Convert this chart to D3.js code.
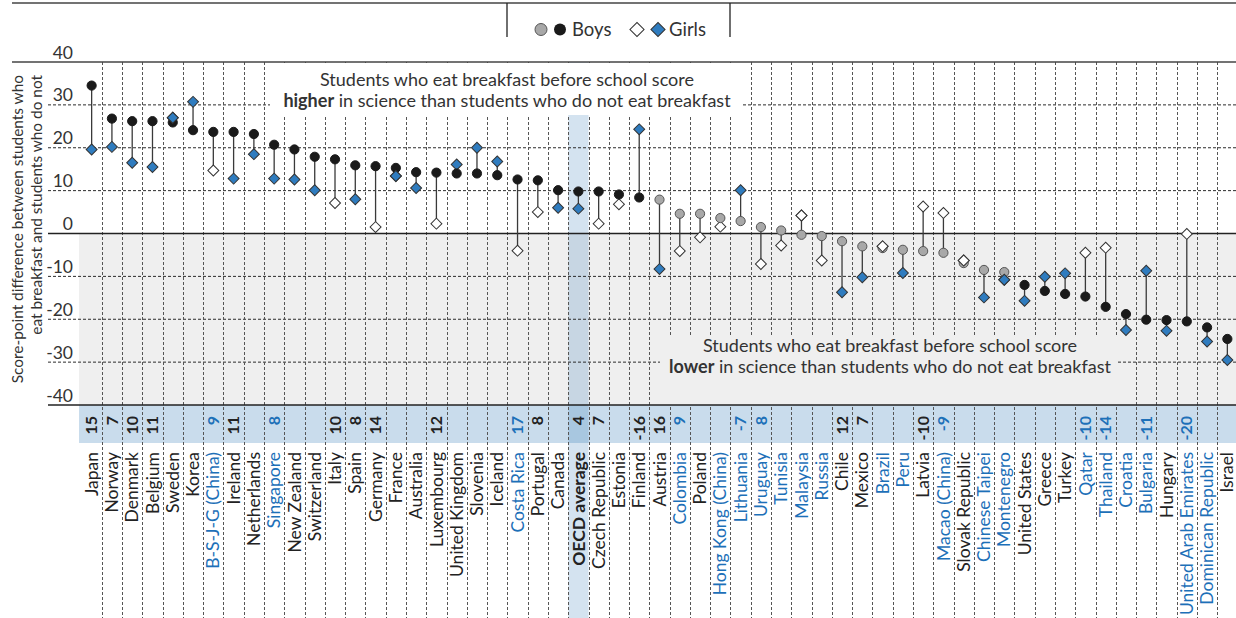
<!DOCTYPE html>
<html>
<head>
<meta charset="utf-8">
<script src="https://cdn.jsdelivr.net/npm/d3@7/dist/d3.min.js"></script>
<style>
  body { margin: 0; background: #fff; }
  svg { display: block; font-family: Lato, 'Open Sans', sans-serif; }
</style>
</head>
<body>
<svg width="1236" height="618"></svg>
<script>
// countries in chart order, left to right
let countries = ['Japan', 'Norway', 'Denmark', 'Belgium', 'Sweden', 'Korea', 'B-S-J-G (China)', 'Ireland',
  'Netherlands', 'Singapore', 'New Zealand', 'Switzerland', 'Italy', 'Spain', 'Germany', 'France', 'Australia',
  'Luxembourg', 'United Kingdom', 'Slovenia', 'Iceland', 'Costa Rica', 'Portugal', 'Canada', 'OECD average',
  'Czech Republic', 'Estonia', 'Finland', 'Austria', 'Colombia', 'Poland', 'Hong Kong (China)', 'Lithuania',
  'Uruguay', 'Tunisia', 'Malaysia', 'Russia', 'Chile', 'Mexico', 'Brazil', 'Peru', 'Latvia', 'Macao (China)',
  'Slovak Republic', 'Chinese Taipei', 'Montenegro', 'United States', 'Greece', 'Turkey', 'Qatar', 'Thailand',
  'Croatia', 'Bulgaria', 'Hungary', 'United Arab Emirates', 'Dominican Republic', 'Israel']

// partner economies get blue labels
let partners = ['B-S-J-G (China)', 'Singapore', 'Costa Rica', 'Colombia', 'Hong Kong (China)', 'Lithuania',
  'Uruguay', 'Tunisia', 'Malaysia', 'Russia', 'Brazil', 'Peru', 'Macao (China)', 'Chinese Taipei', 'Montenegro',
  'Qatar', 'Thailand', 'Croatia', 'Bulgaria', 'United Arab Emirates', 'Dominican Republic']

let boys = [34.5, 26.8, 26.2, 26.2, 25.9, 24.1, 23.7, 23.7, 23.2, 20.7, 19.6, 17.9, 17.3, 15.9, 15.7, 15.3, 14.3,
  14.2, 14.0, 14.0, 13.6, 12.6, 12.4, 10.1, 9.8, 9.8, 9.1, 8.4, 7.9, 4.6, 4.6, 3.6, 2.9, 1.5, 0.7, -0.3, -0.6,
  -1.8, -3.0, -3.4, -3.8, -4.1, -4.5, -6.9, -8.5, -9.0, -12.0, -13.4, -14.1, -14.7, -17.1, -18.8, -20.1, -20.2,
  -20.5, -21.9, -24.6]

let girls = [19.6, 20.2, 16.5, 15.5, 27.0, 30.7, 14.7, 12.8, 18.5, 12.8, 12.6, 10.1, 7.1, 8.0, 1.5, 13.4, 10.6,
  2.3, 16.1, 20.0, 16.8, -4.0, 5.0, 6.0, 5.8, 2.3, 6.8, 24.3, -8.3, -4.1, -0.9, 1.6, 10.1, -7.1, -2.8, 4.2, -6.3,
  -13.7, -10.2, -3.0, -9.2, 6.3, 4.8, -6.3, -14.9, -10.8, -15.7, -10.1, -9.3, -4.5, -3.3, -22.5, -8.7, -22.7,
  -0.1, -25.2, -29.5]

// 1 = statistically significant (dark marker), 0 = not significant (light marker)
let boysSig = [1, 1, 1, 1, 1, 1, 1, 1, 1, 1, 1, 1, 1, 1, 1, 1, 1, 1, 1, 1, 1, 1, 1, 1, 1, 1, 1, 1,
  0, 0, 0, 0, 0, 0, 0, 0, 0, 0, 0, 0, 0, 0, 0, 0, 0, 0, 1, 1, 1, 1, 1, 1, 1, 1, 1, 1, 1]
let girlsSig = [1, 1, 1, 1, 1, 1, 0, 1, 1, 1, 1, 1, 0, 1, 0, 1, 1, 0, 1, 1, 1, 0, 0, 1, 1, 0, 0, 1,
  1, 0, 0, 0, 1, 0, 0, 0, 0, 1, 1, 0, 1, 0, 0, 0, 1, 1, 1, 1, 1, 0, 0, 1, 1, 1, 0, 1, 1]

// difference between boys and girls, shown only where significant
let genderDiff = ['15', '7', '10', '11', '', '', '9', '11', '', '8', '', '', '10', '8', '14', '', '', '12', '', '',
  '', '17', '8', '', '4', '7', '', '-16', '16', '9', '', '', '-7', '8', '', '', '', '12', '7', '', '', '-10', '-9',
  '', '', '', '', '', '', '-10', '-14', '', '-11', '', '-20', '', '']

let yTicks = [40, 30, 20, 10, 0, -10, -20, -30, -40]

let titleLines = ['Score-point difference between students who', 'eat breakfast and students who do not']

let rows = countries.map(function(c, i) {
  return {
    name: c, boys: boys[i], girls: girls[i], boysSig: boysSig[i], girlsSig: girlsSig[i],
    diff: genderDiff[i], partner: partners.indexOf(c) >= 0
  }
})

let svg = d3.select('svg')
let ink = '#2b2b2b'
let blueText = '#1d70b8'
let blueFill = '#2f7cbf'

let x = d3.scaleBand()
  .domain(countries)
  .range([81.5, 1237.5])
  .padding(0)
let y = d3.scaleLinear()
  .domain([-40, 40])
  .range([405, 62])
let cx = function(d) { return x(d.name) + x.bandwidth() / 2 }

// backgrounds
svg.append('rect')
  .attr('x', 79).attr('y', y(0))
  .attr('width', 1236 - 79).attr('height', y(-40) - y(0))
  .attr('fill', '#efefef')
svg.append('rect')
  .attr('x', 79).attr('y', y(-40))
  .attr('width', 1236 - 79).attr('height', 38)
  .attr('fill', '#c9dcec')
svg.append('rect')
  .attr('x', x('OECD average')).attr('y', y(40))
  .attr('width', x.bandwidth()).attr('height', 618 - y(40))
  .attr('fill', 'rgba(40,115,180,0.2)')

// dashed grid
svg.append('g')
  .selectAll('line')
  .data(yTicks.filter(function(t) { return Math.abs(t) !== 40 && t !== 0 }))
  .enter().append('line')
    .attr('x1', 48).attr('x2', 1236)
    .attr('y1', function(d) { return y(d) }).attr('y2', function(d) { return y(d) })
    .attr('stroke', ink).attr('stroke-width', 1)
    .attr('stroke-dasharray', '3,2')

svg.append('g')
  .selectAll('line')
  .data(countries.slice(1))
  .enter().append('line')
    .attr('x1', function(d) { return Math.round(x(d)) + 0.5 })
    .attr('x2', function(d) { return Math.round(x(d)) + 0.5 })
    .attr('y1', y(40)).attr('y2', 618)
    .attr('stroke', '#555').attr('stroke-width', 1)
    .attr('stroke-dasharray', '3,2')

// boxes behind the two notes
svg.append('rect')
  .attr('x', 270).attr('y', y(40) + 1)
  .attr('width', 471).attr('height', 115 - y(40) - 1)
  .attr('fill', '#fff')
svg.append('rect')
  .attr('x', 660).attr('y', 335)
  .attr('width', 458).attr('height', y(-40) - 335)
  .attr('fill', '#efefef')

// solid rules
svg.append('line')
  .attr('x1', 12).attr('x2', 1236).attr('y1', y(40)).attr('y2', y(40))
  .attr('stroke', '#444').attr('stroke-width', 1.5)
svg.append('line')
  .attr('x1', 48).attr('x2', 1236).attr('y1', y(0)).attr('y2', y(0))
  .attr('stroke', '#222').attr('stroke-width', 1.5)
svg.append('line')
  .attr('x1', 48).attr('x2', 1236).attr('y1', y(-40)).attr('y2', y(-40))
  .attr('stroke', '#222').attr('stroke-width', 1.5)

// notes
let noteTop = svg.append('text')
  .attr('text-anchor', 'middle').attr('font-size', 18).attr('fill', '#333')
noteTop.append('tspan').attr('x', 507).attr('y', 86)
  .text('Students who eat breakfast before school score')
noteTop.append('tspan').attr('x', 507).attr('y', 106.5)
  .attr('font-weight', 700).text('higher')
noteTop.append('tspan').text(' in science than students who do not eat breakfast')

let noteBottom = svg.append('text')
  .attr('text-anchor', 'middle').attr('font-size', 18).attr('fill', '#333')
noteBottom.append('tspan').attr('x', 890).attr('y', 352)
  .text('Students who eat breakfast before school score')
noteBottom.append('tspan').attr('x', 890).attr('y', 373)
  .attr('font-weight', 700).text('lower')
noteBottom.append('tspan').text(' in science than students who do not eat breakfast')

// stems
svg.append('g')
  .selectAll('line')
  .data(rows)
  .enter().append('line')
    .attr('x1', cx).attr('x2', cx)
    .attr('y1', function(d) { return y(d.boys) })
    .attr('y2', function(d) { return y(d.girls) })
    .attr('stroke', '#3a3a3a').attr('stroke-width', 1.3)

// markers
let diamond = d3.symbol().type(d3.symbolSquare).size(60)
svg.append('g')
  .selectAll('path')
  .data(rows)
  .enter().append('path')
    .attr('d', diamond)
    .attr('transform', function(d) { return 'translate(' + cx(d) + ',' + y(d.girls) + ') rotate(45)' })
    .attr('fill', function(d) { return d.girlsSig ? blueFill : '#fff' })
    .attr('stroke', '#333').attr('stroke-width', 1)

svg.append('g')
  .selectAll('circle')
  .data(rows)
  .enter().append('circle')
    .attr('cx', cx).attr('cy', function(d) { return y(d.boys) })
    .attr('r', 4.6)
    .attr('fill', function(d) { return d.boysSig ? '#1a1a1a' : '#a8a8a8' })
    .attr('stroke', function(d) { return d.boysSig ? '#1a1a1a' : '#555' })
    .attr('stroke-width', 1)

// girls markers that sit on top of the boys marker in the original
let onTop = ['Sweden', 'France', 'Brazil', 'Slovak Republic', 'Montenegro', 'Canada', 'OECD average', 'Malaysia']
svg.append('g')
  .selectAll('path')
  .data(rows.filter(function(d) { return onTop.indexOf(d.name) >= 0 && d.girls >= d.boys - 2 }))
  .enter().append('path')
    .attr('d', diamond)
    .attr('transform', function(d) { return 'translate(' + cx(d) + ',' + y(d.girls) + ') rotate(45)' })
    .attr('fill', function(d) { return d.girlsSig ? blueFill : '#fff' })
    .attr('stroke', '#333').attr('stroke-width', 1)

// gender gap numbers
svg.append('g')
  .selectAll('text')
  .data(rows.filter(function(d) { return d.diff !== '' }))
  .enter().append('text')
    .attr('transform', function(d) { return 'translate(' + cx(d) + ',416) rotate(-90)' })
    .attr('dy', '0.35em')
    .attr('text-anchor', 'end')
    .attr('font-size', 16).attr('font-weight', 700)
    .attr('fill', function(d) { return d.partner ? blueText : '#222' })
    .text(function(d) { return d.diff })

// country labels
svg.append('g')
  .selectAll('text')
  .data(rows)
  .enter().append('text')
    .attr('transform', function(d) { return 'translate(' + cx(d) + ',452) rotate(-90)' })
    .attr('dy', '0.35em')
    .attr('text-anchor', 'end')
    .attr('font-size', 17.5)
    .attr('font-weight', function(d) { return d.name === 'OECD average' ? 700 : 400 })
    .attr('fill', function(d) { return d.partner ? blueText : '#222' })
    .text(function(d) { return d.name })

// y axis
svg.append('g')
  .selectAll('text')
  .data(yTicks)
  .enter().append('text')
    .attr('x', 73).attr('y', function(d) { return y(d) - 3.5 })
    .attr('text-anchor', 'end')
    .attr('font-size', 17.5).attr('fill', '#333')
    .text(function(d) { return d })

svg.append('g')
  .selectAll('text')
  .data(titleLines)
  .enter().append('text')
    .attr('transform', function(d, i) { return 'translate(' + (18 + i * 19) + ',75) rotate(-90)' })
    .attr('dy', '0.35em')
    .attr('text-anchor', 'end')
    .attr('font-size', 15.4).attr('fill', '#333')
    .text(function(d) { return d })

// legend
svg.append('line')
  .attr('x1', 12).attr('x2', 1236).attr('y1', 3).attr('y2', 3)
  .attr('stroke', '#444').attr('stroke-width', 1.5)
svg.append('line')
  .attr('x1', 507).attr('x2', 507).attr('y1', 3).attr('y2', 37)
  .attr('stroke', '#222').attr('stroke-width', 1.3)
svg.append('line')
  .attr('x1', 730).attr('x2', 730).attr('y1', 3).attr('y2', 37)
  .attr('stroke', '#222').attr('stroke-width', 1.3)

let legend = svg.append('g')
legend.append('circle').attr('cx', 541).attr('cy', 29.5).attr('r', 6)
  .attr('fill', '#a8a8a8').attr('stroke', '#555')
legend.append('circle').attr('cx', 560).attr('cy', 29.5).attr('r', 6)
  .attr('fill', '#1a1a1a')
legend.append('text').attr('x', 572).attr('y', 35.5)
  .attr('font-size', 18.5).attr('fill', '#333').text('Boys')
let bigDiamond = d3.symbol().type(d3.symbolSquare).size(100)
legend.append('path').attr('d', bigDiamond)
  .attr('transform', 'translate(637,29.5) rotate(45)')
  .attr('fill', '#fff').attr('stroke', '#333')
legend.append('path').attr('d', bigDiamond)
  .attr('transform', 'translate(658,29.5) rotate(45)')
  .attr('fill', blueFill).attr('stroke', '#333')
legend.append('text').attr('x', 669).attr('y', 35.5)
  .attr('font-size', 18.5).attr('fill', '#333').text('Girls')
</script>
</body>
</html>
